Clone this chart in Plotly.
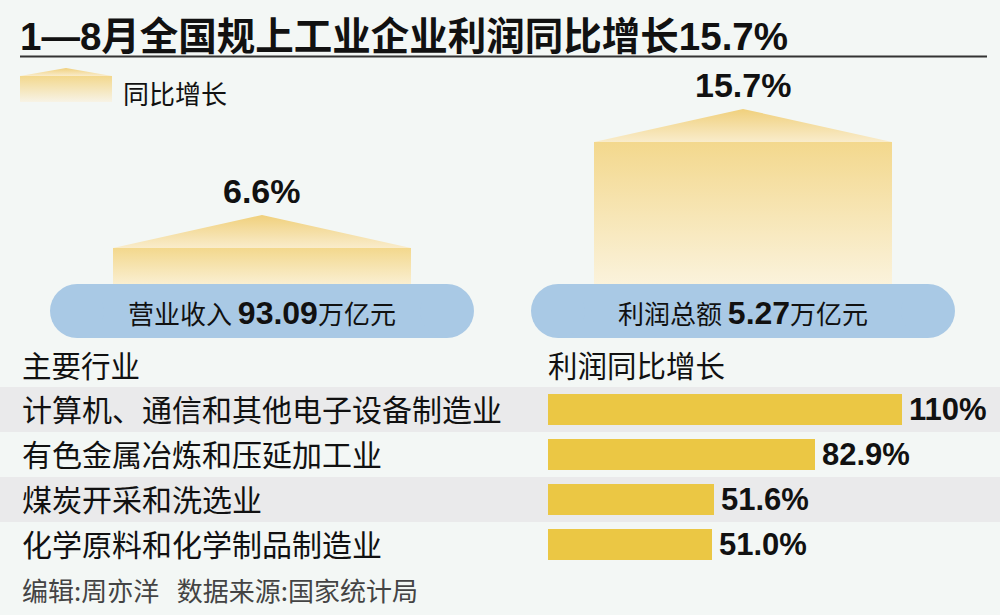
import plotly.graph_objects as go

# ---------------- data ----------------
title_text = "1—8月全国规上工业企业利润同比增长15.7%"
legend_label = "同比增长"
house_names = ["营业收入", "利润总额"]
house_amounts = ["93.09", "5.27"]
house_unit = "万亿元"
house_growth = [6.6, 15.7]
house_growth_labels = ["6.6%", "15.7%"]

industries = [
    "计算机、通信和其他电子设备制造业",
    "有色金属冶炼和压延加工业",
    "煤炭开采和洗选业",
    "化学原料和化学制品制造业",
]
industry_growth = [110, 82.9, 51.6, 51.0]
industry_labels = ["110%", "82.9%", "51.6%", "51.0%"]
left_header = "主要行业"
right_header = "利润同比增长"
footer = "编辑:周亦洋&nbsp;&nbsp;&nbsp;数据来源:国家统计局"

# ---------------- style ----------------
W, H = 1000, 615
BG = "#f3f7f5"
STRIPE = "#eaeaeb"
BAR = "#ebc744"
PILL = "#a9c9e5"
CJK = "Noto Sans CJK SC"
NUM = "Liberation Sans, " + CJK
BODY_TOP, BODY_BOT = "#f3d88d", "#fbf4e0"
ROOF_TOP, ROOF_BOT = "#f0d07c", "#f9eccb"

house_centers = [262, 743]
house_half = 149
roof_h = 2.83

fig = go.Figure()

def py(px):
    return 1 - px / H

# ---------------- houses (x3 pixel axis, y2 value axis) ----------------
for c, v in zip(house_centers, house_growth):
    top = v - roof_h
    fig.add_trace(go.Scatter(
        x=[c - house_half, c + house_half, c + house_half, c - house_half, c - house_half],
        y=[0, 0, top, top, 0], mode="none", fill="toself",
        fillgradient=dict(type="vertical", colorscale=[[0, BODY_BOT], [1, BODY_TOP]],
                          start=0, stop=top),
        xaxis="x3", yaxis="y2", hoverinfo="skip", showlegend=False))
    fig.add_trace(go.Scatter(
        x=[c - house_half, c, c + house_half, c - house_half],
        y=[top, v, top, top], mode="none", fill="toself",
        fillgradient=dict(type="vertical", colorscale=[[0, ROOF_BOT], [1, ROOF_TOP]],
                          start=top, stop=v),
        xaxis="x3", yaxis="y2", hoverinfo="skip", showlegend=False))

# legend icon (pixel axes x3/y3)
fig.add_trace(go.Scatter(
    x=[20, 112, 112, 20, 20], y=[102, 102, 76, 76, 102], mode="none", fill="toself",
    fillgradient=dict(type="vertical", colorscale=[[0, "#f7f3e6"], [1, BODY_TOP]], start=102, stop=76),
    xaxis="x3", yaxis="y3", hoverinfo="skip", showlegend=False))
fig.add_trace(go.Scatter(
    x=[20, 66, 112, 20], y=[76, 68, 76, 76], mode="none", fill="toself",
    fillgradient=dict(type="vertical", colorscale=[[0, ROOF_BOT], [1, ROOF_TOP]], start=76, stop=68),
    xaxis="x3", yaxis="y3", hoverinfo="skip", showlegend=False))

# ---------------- bars ----------------
rows = list(range(len(industries)))
fig.add_trace(go.Bar(
    x=industry_growth, y=rows, orientation="h", marker=dict(color=BAR, line=dict(width=0)),
    width=0.71, xaxis="x", yaxis="y", hoverinfo="skip", showlegend=False))

shapes = []
annotations = []

# stripes
for r in rows:
    if r % 2 == 0:
        shapes.append(dict(type="rect", xref="paper", yref="y", x0=0, x1=1, y0=r - 0.5, y1=r + 0.5,
                           fillcolor=STRIPE, line=dict(width=0), layer="below"))

# title underline
shapes.append(dict(type="line", xref="x3", yref="y3", x0=20, x1=987, y0=56.5, y1=56.5,
                   line=dict(color="#333333", width=2)))

# pills
pill_half, pill_r = 212, 27
for c in house_centers:
    shapes.append(dict(type="rect", xref="x3", yref="y3", x0=c - pill_half + pill_r, x1=c + pill_half - pill_r,
                       y0=284, y1=338, fillcolor=PILL, line=dict(width=0), layer="above"))
    for cx in (c - pill_half + pill_r, c + pill_half - pill_r):
        shapes.append(dict(type="circle", xref="x3", yref="y3", x0=cx - pill_r, x1=cx + pill_r,
                           y0=284, y1=338, fillcolor=PILL, line=dict(width=0), layer="above"))

# title
annotations.append(dict(text="<b>" + title_text + "</b>", xref="paper", yref="paper", x=18 / W, y=py(36),
                        xanchor="left", yanchor="middle", showarrow=False,
                        font=dict(family="Liberation Sans, " + CJK, size=38.5, color="#111111")))
# legend label
annotations.append(dict(text=legend_label, xref="paper", yref="paper", x=121 / W, y=py(92),
                        xanchor="left", yanchor="middle", showarrow=False,
                        font=dict(family=CJK, size=26, color="#111111")))

# house labels
for c, v, lab, name, amt in zip(house_centers, house_growth, house_growth_labels, house_names, house_amounts):
    annotations.append(dict(text="<b>" + lab + "</b>", xref="x3", yref="y2", x=c, y=v,
                            xanchor="center", yanchor="bottom", yshift=3, showarrow=False,
                            font=dict(family=NUM, size=34, color="#111111")))
    annotations.append(dict(
        text=name + "&nbsp;<span style='font-family:Liberation Sans;font-size:32px;font-weight:bold'>"
             + amt + "</span>" + house_unit,
        xref="x3", yref="paper", x=c, y=py(312), xanchor="center", yanchor="middle", showarrow=False,
        font=dict(family=CJK, size=26, color="#111111")))

# headers
annotations.append(dict(text=left_header, xref="paper", yref="paper", x=20 / W, y=py(364),
                        xanchor="left", yanchor="middle", showarrow=False,
                        font=dict(family=CJK, size=29.5, color="#111111")))
annotations.append(dict(text=right_header, xref="paper", yref="paper", x=546 / W, y=py(364),
                        xanchor="left", yanchor="middle", showarrow=False,
                        font=dict(family=CJK, size=29.5, color="#111111")))

# industry labels & values
for r, name, v, lab in zip(rows, industries, industry_growth, industry_labels):
    annotations.append(dict(text=name, xref="paper", yref="y", x=20 / W, y=r, yshift=2,
                            xanchor="left", yanchor="middle", showarrow=False,
                            font=dict(family=CJK, size=30, color="#111111")))
    annotations.append(dict(text="<b>" + lab + "</b>", xref="x", yref="y", x=v, y=r, xshift=5,
                            xanchor="left", yanchor="middle", showarrow=False,
                            font=dict(family=NUM, size=31, color="#111111")))

# footer
annotations.append(dict(text=footer, xref="paper", yref="paper", x=20 / W, y=py(589),
                        xanchor="left", yanchor="middle", showarrow=False,
                        font=dict(family=CJK, size=26, color="#444444")))

px_x0 = 548
scale = 3.22
xmax = 120
fig.update_layout(
    width=W, height=H, autosize=False,
    margin=dict(l=0, r=0, t=0, b=0, pad=0),
    paper_bgcolor=BG, plot_bgcolor="rgba(0,0,0,0)",
    showlegend=False,
    xaxis=dict(domain=[px_x0 / W, (px_x0 + xmax * scale) / W], range=[0, xmax], visible=False, fixedrange=True),
    yaxis=dict(domain=[py(567), py(387)], range=[3.5, -0.5], visible=False, fixedrange=True),
    xaxis3=dict(domain=[0, 1], range=[0, W], visible=False, anchor="y3", fixedrange=True),
    yaxis2=dict(domain=[py(292), py(292 - 20 * 11.66)], range=[0, 20], visible=False, anchor="x3", fixedrange=True),
    yaxis3=dict(domain=[0, 1], range=[H, 0], visible=False, anchor="x3", fixedrange=True),
    shapes=shapes, annotations=annotations,
    bargap=0,
)

fig.write_html(
    "out.html",
    config={"displayModeBar": False},
    post_script="document.body.style.margin='0';document.body.style.padding='0';"
                "document.body.style.overflow='hidden';document.documentElement.style.overflow='hidden';",
)
